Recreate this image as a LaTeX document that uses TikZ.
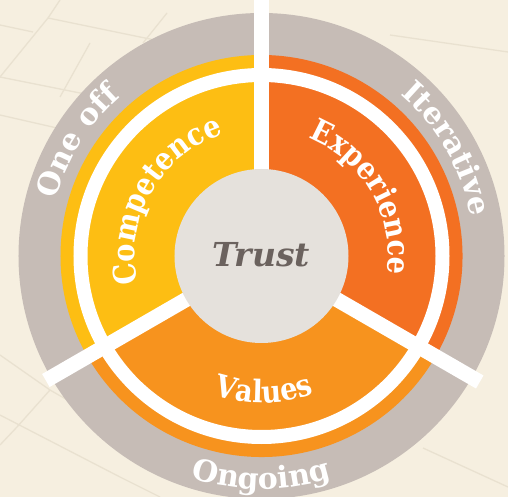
\documentclass[tikz,border=0pt]{standalone}
\usepackage{fontspec}
\setmainfont{DejaVu Serif}
\newfontfamily\narrowserif[FakeStretch=0.88]{DejaVu Serif}
\usetikzlibrary{decorations.text}

\definecolor{bgcream}{HTML}{F6EFE0}
\definecolor{tileline}{HTML}{E9E1D0}
\definecolor{ringgray}{HTML}{C6BCB6}
\definecolor{hubgray}{HTML}{E5E1DC}
\definecolor{compyellow}{HTML}{FDBE13}
\definecolor{exporange}{HTML}{F37022}
\definecolor{valorange}{HTML}{F7931E}
\definecolor{trusttext}{HTML}{6B625E}

\newcommand\ringfont{\bfseries\fontsize{30}{30}\selectfont}
\newcommand\petalfont{\narrowserif\bfseries\fontsize{31}{31}\selectfont}

\tikzset{
  curvedlabel/.style={decorate, decoration={text along path, text={#1},
      text align=center, text color=white}},
  divider/.style={white, line width=15},
  tile/.style={tileline, line width=1.3},
}

\begin{document}
\begin{tikzpicture}[x=1pt, y=1pt]
  % page size: the hub centre sits 261.5 from the left and 256 from the top
  \useasboundingbox (-261.5,-241) rectangle (246.5,256);

  % page and floor tiles, in page coordinates (origin top left, y down)
  \begin{scope}[shift={(-261.5,256)}, yscale=-1]
    \fill[bgcream] (0,0) rectangle (508,497);
    \draw[tile] (60,0) -- (48,18) -- (0,77);
    \draw[tile] (48,18) -- (140,37) -- (180,45);
    \draw[tile] (0,25) -- (33,32);
    \draw[tile] (0,77) -- (100,97) -- (150,108);
    \draw[tile] (0,115) -- (57,128);
    \draw[tile] (90,43) -- (60,97);
    \draw[tile] (167,13) -- (143,43);
    \draw[tile] (390,35) -- (508,52);
    \draw[tile] (0,355) -- (50,390) -- (120,430);
    \draw[tile] (50,390) -- (17,427) -- (0,445);
    \draw[tile] (0,415) -- (120,477) -- (160,497);
    \draw[tile] (423,448) -- (508,487);
  \end{scope}

  % outer ring
  \fill[ringgray] (0,0) circle (243);

  % three sectors
  \fill[compyellow] (0,0) -- (90:201) arc[start angle=90, end angle=210, radius=201] -- cycle;
  \fill[valorange]  (0,0) -- (210:201) arc[start angle=210, end angle=330, radius=201] -- cycle;
  \fill[exporange]  (0,0) -- (330:201) arc[start angle=-30, end angle=90, radius=201] -- cycle;

  % white separating ring and dividers
  \draw[white, line width=14] (0,0) circle (181);
  \coordinate (hubc) at (0,0);
  \coordinate (topend) at (90:257);
  \coordinate (leftend) at (210:249);
  \coordinate (rightend) at (330:252);
  \draw[divider] (hubc) -- (topend);
  \draw[divider] (hubc) -- (leftend);
  \draw[divider] (hubc) -- (rightend);

  % hub
  \fill[hubgray] (hubc) circle (87);
  \node[text=trusttext, font=\bfseries\itshape\fontsize{33}{33}\selectfont] (trust) at (0,1) {Trust};

  % sector labels
  \path[curvedlabel={|\petalfont|Competence}] (200:127) arc[start angle=200, end angle=100, radius=127];
  \path[curvedlabel={|\petalfont|Experience}] (80:127) arc[start angle=80, end angle=-20, radius=127];
  \path[curvedlabel={|\petalfont|Values}] (231:147) arc[start angle=231, end angle=311, radius=147];

  % ring labels
  \path[curvedlabel={|\ringfont|One off}] (198:213) arc[start angle=198, end angle=98, radius=213];
  \path[curvedlabel={|\ringfont|Iterative}] (80:213) arc[start angle=80, end angle=-20, radius=213];
  \path[curvedlabel={|\ringfont|Ongoing}] (240:233) arc[start angle=240, end angle=300, radius=233];
\end{tikzpicture}
\end{document}
